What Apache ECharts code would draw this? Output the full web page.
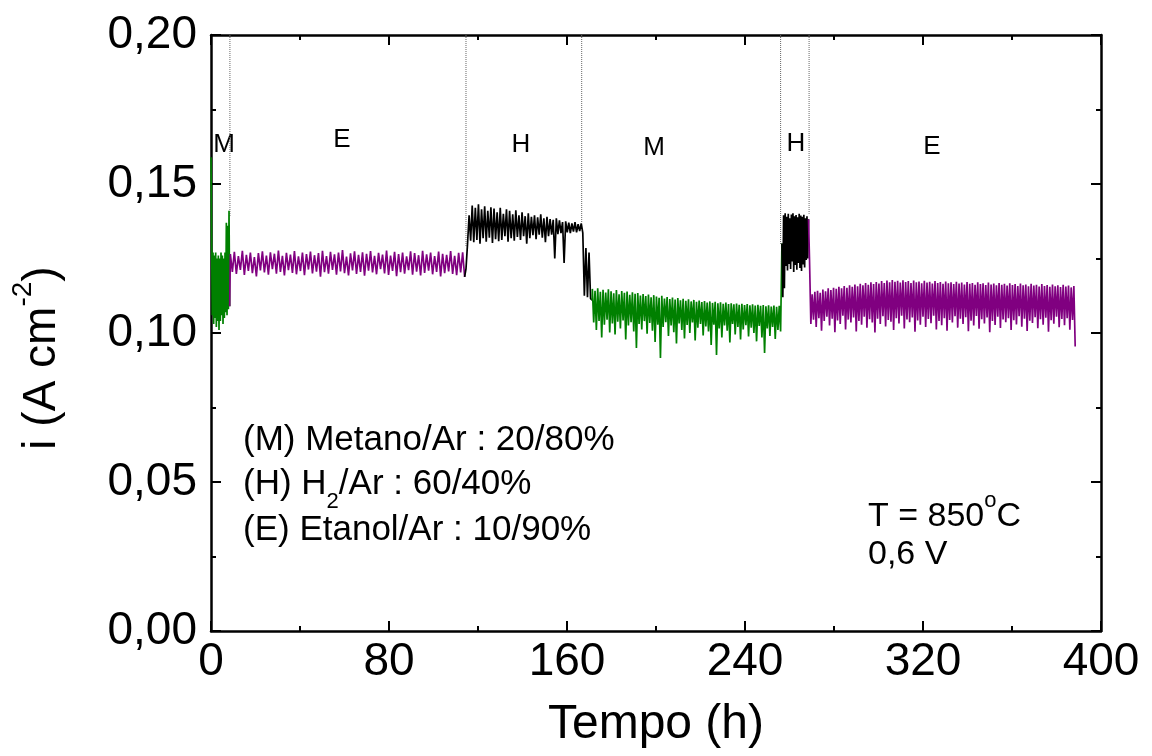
<!DOCTYPE html>
<html><head><meta charset="utf-8">
<script src="https://cdn.jsdelivr.net/npm/echarts@6/dist/echarts.min.js"></script>
<style>html,body{margin:0;padding:0;background:#fff}#c{width:1152px;height:756px}</style>
</head><body><div id="c"></div>
<script>
// ---- tick labels ----
const xTickLabels = ['0','80','160','240','320','400'];
const yTickLabels = ['0,00','0,05','0,10','0,15','0,20'];

// ---- segments: start time (h), sampling step (h), values (A cm^-2) ----
const segNames  = ['M','E','H','M','H','E'];
const segStarts = [0, 8.7, 114.6, 171.4, 257.0, 269.0];
const segSteps  = [0.3, 0.9, 0.7, 0.6, 0.35, 0.6];

const valuesM1 = [.159,.129,.106,.127,.103,.126,.105,.127,.102,.125,.104,.126,.101,.125,.104,.127,.106,.126,.103,.125,.105,.127,.107,.137,.106,.136,.108,.141,.109];

const valuesE1 = [
.1265,.1205,.1272,.1198,.1258,.1212,.1276,.1195,.1262,.1208,
.1270,.1201,.1255,.1190,.1268,.1210,.1274,.1203,.1260,.1196,
.1271,.1214,.1266,.1199,.1277,.1205,.1259,.1193,.1269,.1211,
.1263,.1202,.1275,.1197,.1257,.1208,.1270,.1194,.1265,.1213,
.1273,.1200,.1261,.1206,.1268,.1189,.1276,.1204,.1258,.1199,
.1272,.1212,.1264,.1196,.1270,.1207,.1278,.1201,.1256,.1193,
.1267,.1210,.1274,.1198,.1262,.1205,.1271,.1192,.1266,.1209,
.1275,.1203,.1259,.1197,.1269,.1214,.1263,.1200,.1277,.1195,
.1260,.1208,.1272,.1191,.1265,.1204,.1270,.1199,.1257,.1211,
.1274,.1196,.1268,.1206,.1261,.1193,.1276,.1202,.1264,.1209,
.1270,.1197,.1258,.1205,.1273,.1190,.1266,.1201,.1262,.1207,
.1275,.1198,.1259,.1194,.1269,.1203,.1271,.1188];

const valuesH1 = [
.1215,.1300,.1395,.1310,.1428,
.1305,.1420,.1312,.1432,.1300,.1415,.1318,.1425,.1306,.1410,
.1320,.1422,.1302,.1418,.1315,.1405,.1308,.1420,.1312,.1400,
.1325,.1415,.1306,.1410,.1318,.1398,.1310,.1412,.1322,.1395,
.1312,.1405,.1325,.1392,.1300,.1402,.1318,.1390,.1328,.1395,
.1315,.1388,.1330,.1398,.1320,.1385,.1305,.1390,.1325,.1382,
.1330,.1380,.1250,.1385,.1332,.1378,.1335,.1372,.1235,.1375,
.1338,.1370,.1335,.1368,
.1340,.1372,.1338,.1365,.1342,.1368,.1336,
.1125,.1285,.1120,.1270,.1115,.1110];

const valuesM2 = [
.1148,.1035,.1142,.1010,.1150,.1040,.1138,.0985,.1145,.1028,
.1136,.1045,.1147,.1002,.1140,.1032,.1133,.0995,.1144,.1038,
.1130,.1015,.1141,.1042,.1135,.0978,.1139,.1025,.1128,.1036,
.1137,.1005,.1132,.0950,.1134,.1030,.1126,.1012,.1131,.1040,
.1124,.0998,.1129,.1034,.1120,.1008,.1127,.0970,.1122,.1028,
.1118,.0916,.1125,.1020,.1116,.1036,.1121,.0990,.1114,.1025,
.1119,.1003,.1112,.0965,.1117,.1032,.1110,.1010,.1115,.0982,
.1108,.1027,.1113,.1000,.1106,.1035,.1111,.0975,.1105,.1018,
.1109,.1030,.1104,.0992,.1107,.1022,.1102,.1005,.1106,.0960,
.1101,.1028,.1105,.0926,.1100,.1015,.1103,.0985,.1098,.1025,
.1102,.1008,.1097,.0968,.1100,.1030,.1096,.0995,.1099,.1020,
.1095,.0978,.1098,.1012,.1094,.1026,.1097,.0988,.1093,.1018,
.1096,.1000,.1092,.0972,.1095,.1024,.1091,.0985,.1094,.0933,
.1090,.1015,.1093,.0990,.1089,.1020,.1092,.0980,.1088,.1010,
.1091,.1005,.1300];

const valuesH2 = [
.1120,.1395,.1150,.1402,.1225,.1390,.1210,.1400,.1232,.1385,
.1215,.1398,.1240,.1402,.1205,.1392,.1228,.1396,.1212,.1388,
.1235,.1400,.1218,.1394,.1208,.1390,.1230,.1397,.1220,.1385,
.1245,.1392,.1250,.1382];

const valuesE2 = [
.1245,.1030,.1130,.1045,.1138,.1020,.1142,.1050,.1135,.1008,
.1146,.1040,.1140,.1055,.1150,.1025,.1144,.1048,.1152,.1003,
.1148,.1042,.1155,.1030,.1150,.1058,.1158,.1012,.1152,.1045,
.1160,.1035,.1155,.1052,.1163,.1005,.1157,.1040,.1165,.1028,
.1160,.1055,.1168,.1018,.1162,.1046,.1170,.1035,.1164,.1002,
.1171,.1048,.1166,.1030,.1174,.1056,.1168,.1022,.1176,.1044,
.1170,.1038,.1178,.1010,.1172,.1050,.1175,.1032,.1169,.1058,
.1177,.1015,.1171,.1045,.1174,.1036,.1168,.1052,.1176,.1004,
.1170,.1042,.1173,.1028,.1167,.1055,.1175,.1020,.1169,.1047,
.1172,.1033,.1166,.1058,.1174,.1012,.1168,.1040,.1171,.1026,
.1165,.1050,.1173,.1008,.1167,.1044,.1170,.1035,.1164,.1056,
.1172,.1018,.1166,.1048,.1169,.1030,.1163,.1053,.1171,.1006,
.1165,.1041,.1168,.1025,.1162,.1057,.1170,.1014,.1164,.1046,
.1167,.1032,.1161,.1052,.1169,.1003,.1163,.1040,.1166,.1027,
.1160,.1055,.1168,.1017,.1162,.1045,.1165,.1036,.1159,.1050,
.1167,.1010,.1161,.1043,.1164,.1029,.1158,.1056,.1166,.1021,
.1160,.1048,.1163,.1007,.1157,.1041,.1165,.1034,.1159,.1053,
.1162,.1016,.1156,.1046,.1164,.1028,.1158,.1051,.1161,.1004,
.1155,.1043,.1163,.1031,.1157,.1055,.1160,.1019,.1154,.1047,
.1162,.1026,.1156,.1050,.1159,.1011,.1153,.1044,.1158,.0955];

const segValues = [valuesM1, valuesE1, valuesH1, valuesM2, valuesH2, valuesE2];

// ---- gas-switch boundaries (dotted lines): time (h) and lower end (A cm^-2) ----
const boundaryTimes = [8.5, 114.6, 166.6, 256.0, 268.8];
const boundaryEnds  = [0.139, 0.129, 0.137, 0.1295, 0.140];

const FONT = 'Liberation Sans, Arial, sans-serif';
const gasColor = {M:'#008000', E:'#800080', H:'#000000'};

const chart = echarts.init(document.getElementById('c'), null, {renderer:'canvas'});

const series = [];
let prevLast = null;
segValues.forEach((vals, k) => {
  const data = vals.map((v, i) => [segStarts[k] + i * segSteps[k], v]);
  const full = prevLast ? [prevLast].concat(data) : data;
  prevLast = data[data.length - 1];
  series.push({
    type:'line', name: segNames[k], data: full, showSymbol:false, symbol:'none',
    lineStyle:{color: gasColor[segNames[k]], width:1.7}, itemStyle:{color: gasColor[segNames[k]]},
    silent:true, z:3
  });
});
boundaryTimes.forEach((t, i) => {
  series.push({
    type:'line', data:[[t, 0.2],[t, boundaryEnds[i]]], showSymbol:false, symbol:'none',
    lineStyle:{color:'#666', width:1, type:'dotted'}, silent:true, z:2
  });
});

const axisLine = {show:true, onZero:false, lineStyle:{color:'#000', width:2.5}};
const tick = {show:true, inside:true, length:10, lineStyle:{color:'#000', width:2}};
const minor = {show:true, splitNumber:2, length:5, lineStyle:{color:'#000', width:2}};

const segLabel = (x, y, t) => ({type:'text', x, y,
  style:{text:t, fontSize:26, fontFamily:FONT, fill:'#000', align:'center', verticalAlign:'middle'}});

const option = {
  backgroundColor:'#fff',
  animation:false,
  grid:{left:211, right:51, top:35, bottom:125, containLabel:false, outerBoundsMode:'none'},
  xAxis:[
    {type:'value', min:0, max:400, interval:80, position:'bottom',
     axisLine, axisTick:tick, minorTick:minor, splitLine:{show:false}, minorSplitLine:{show:false},
     axisLabel:{fontSize:46, color:'#000', fontFamily:FONT, margin:8,
       formatter:(v)=>xTickLabels[Math.round(v/80)]},
     name:'Tempo (h)', nameLocation:'middle', nameGap:70,
     nameTextStyle:{fontSize:48, color:'#000', fontFamily:FONT}},
    {type:'value', min:0, max:400, interval:80, position:'top',
     axisLine, axisTick:tick, minorTick:minor, splitLine:{show:false}, axisLabel:{show:false}}
  ],
  yAxis:[
    {type:'value', min:0, max:0.2, interval:0.05, position:'left',
     axisLine, axisTick:tick, minorTick:minor, splitLine:{show:false}, minorSplitLine:{show:false},
     axisLabel:{fontSize:46, color:'#000', fontFamily:FONT, margin:14,
       formatter:(v)=>yTickLabels[Math.round(v/0.05)]},
     name:'{a|i (A cm}{s|-2}{a|)}', nameLocation:'middle', nameGap:146, nameRotate:90,
     nameTextStyle:{color:'#000', fontFamily:FONT, fontSize:46, padding:[0,50,0,0],
       rich:{a:{fontSize:46, lineHeight:56, fontFamily:FONT, color:'#000', verticalAlign:'bottom'},
             s:{fontSize:28, lineHeight:56, fontFamily:FONT, color:'#000', verticalAlign:'top'}}}},
    {type:'value', min:0, max:0.2, interval:0.05, position:'right',
     axisLine, axisTick:tick, minorTick:minor, splitLine:{show:false}, axisLabel:{show:false}}
  ],
  series,
  graphic:[
    segLabel(224,145,'M'), segLabel(342,140,'E'), segLabel(521,145,'H'),
    segLabel(654,148,'M'), segLabel(796,144,'H'), segLabel(932,147,'E'),
    {type:'text', x:243, y:440, style:{text:'(M) Metano/Ar : 20/80%', fontSize:35, fontFamily:FONT, fill:'#000', align:'left', verticalAlign:'middle'}},
    {type:'text', x:243, y:490, style:{text:'{a|(H) H}{sub|2}{a|/Ar : 60/40%}', fontSize:35, fontFamily:FONT, fill:'#000', align:'left', verticalAlign:'middle',
       rich:{a:{fontSize:35, lineHeight:46, fontFamily:FONT, fill:'#000', verticalAlign:'top'},
             sub:{fontSize:22, lineHeight:46, fontFamily:FONT, fill:'#000', verticalAlign:'bottom'}}}},
    {type:'text', x:243, y:530, style:{text:'(E) Etanol/Ar : 10/90%', fontSize:35, fontFamily:FONT, fill:'#000', align:'left', verticalAlign:'middle'}},
    {type:'text', x:868, y:512, style:{text:'{a|T = 850}{sup|o}{a|C}', fontSize:34, fontFamily:FONT, fill:'#000', align:'left', verticalAlign:'middle',
       rich:{a:{fontSize:34, lineHeight:44, fontFamily:FONT, fill:'#000', verticalAlign:'bottom'},
             sup:{fontSize:22, lineHeight:44, fontFamily:FONT, fill:'#000', verticalAlign:'top'}}}},
    {type:'text', x:868, y:555, style:{text:'0,6 V', fontSize:34, fontFamily:FONT, fill:'#000', align:'left', verticalAlign:'middle'}}
  ]
};
chart.setOption(option);
</script></body></html>
